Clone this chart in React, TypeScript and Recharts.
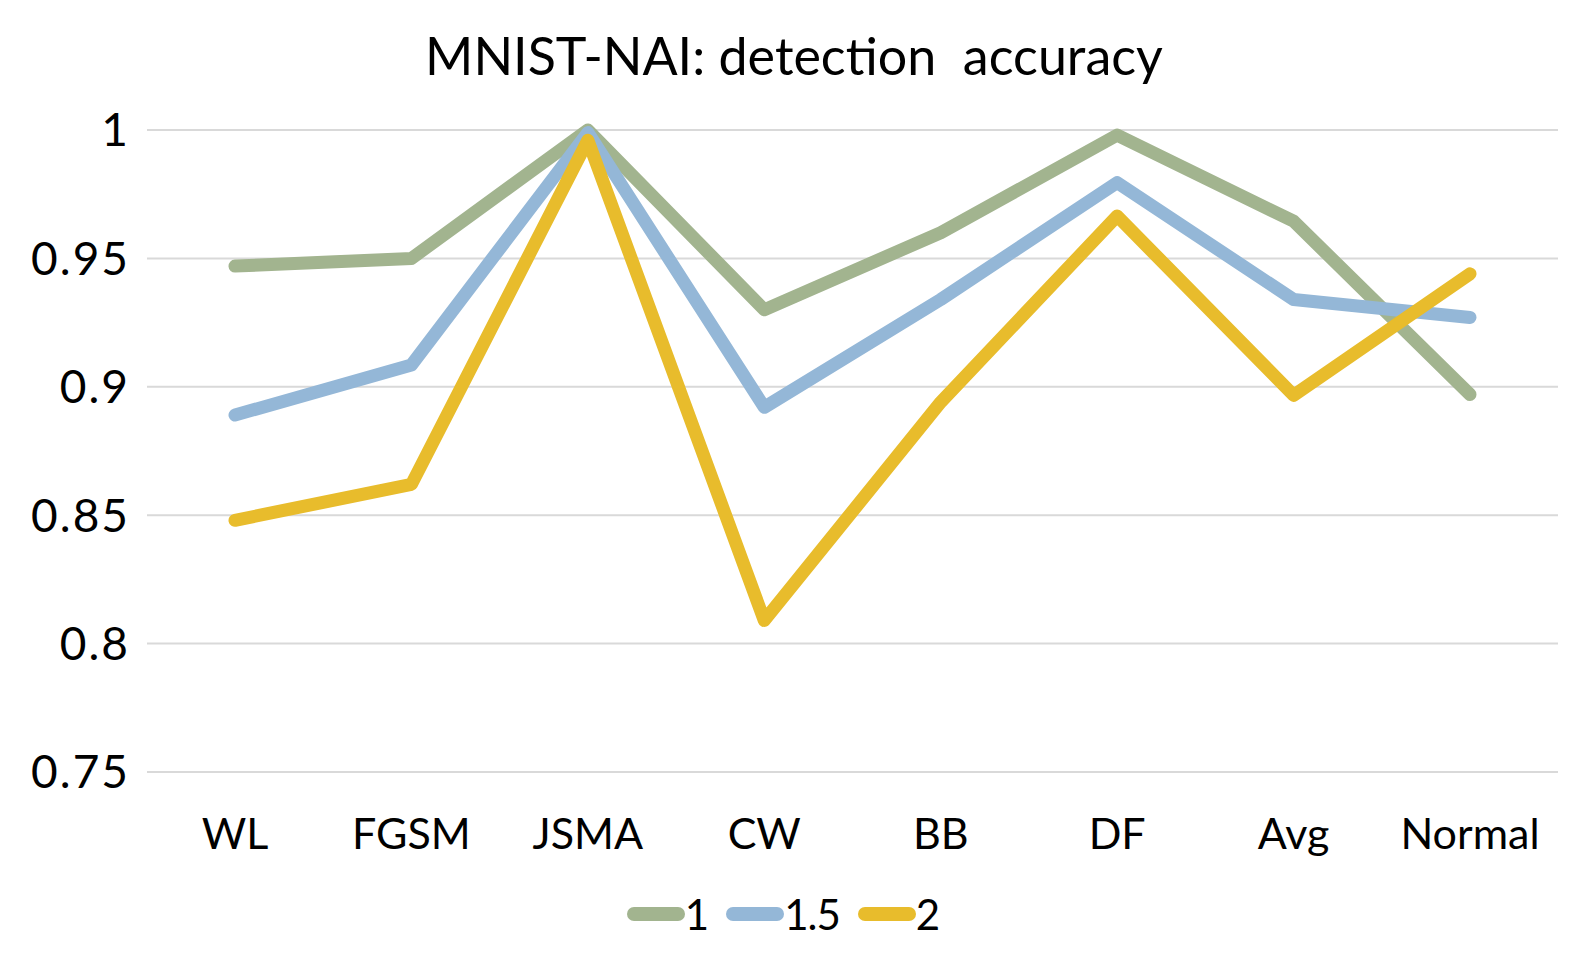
import { LineChart, Line, XAxis, YAxis, CartesianGrid, Legend } from "recharts";

const CATEGORIES = ["WL", "FGSM", "JSMA", "CW", "BB", "DF", "Avg", "Normal"];

// detection accuracy per threshold setting
const SERIES_1 = [0.947, 0.95, 1.0, 0.93, 0.96, 0.998, 0.9645, 0.897];
const SERIES_15 = [0.889, 0.9085, 0.999, 0.892, 0.934, 0.9795, 0.934, 0.927];
const SERIES_2 = [0.848, 0.862, 0.996, 0.809, 0.894, 0.9665, 0.8967, 0.944];

const Y_TICKS = [0.75, 0.8, 0.85, 0.9, 0.95, 1];
const Y_TICK_LABELS: Record<string, string> = {
  "0.75": "0.75",
  "0.8": "0.8",
  "0.85": "0.85",
  "0.9": "0.9",
  "0.95": "0.95",
  "1": "1",
};

const SERIES = [
  { key: "s1", name: "1", color: "#A2B48F" },
  { key: "s15", name: "1.5", color: "#94B7D7" },
  { key: "s2", name: "2", color: "#E8BC2C" },
];

const data = CATEGORIES.map((c, i) => ({
  name: c,
  s1: SERIES_1[i],
  s15: SERIES_15[i],
  s2: SERIES_2[i],
}));

const FONT = "Lato, 'Open Sans', sans-serif";

const LegendContent = () => (
  <div
    style={{
      display: "flex",
      justifyContent: "center",
      alignItems: "center",
      fontFamily: FONT,
      fontSize: 42,
      color: "#000",
      paddingLeft: 8,
    }}
  >
    {SERIES.map((s, i) => (
      <div
        key={s.key}
        style={{ display: "flex", alignItems: "center", marginRight: i < SERIES.length - 1 ? 18 : 0 }}
      >
        <svg width={58} height={20} style={{ marginRight: 0 }}>
          <line x1={7} y1={10} x2={51} y2={10} stroke={s.color} strokeWidth={14} strokeLinecap="round" />
        </svg>
        <span style={{ letterSpacing: -1 }}>{s.name}</span>
      </div>
    ))}
  </div>
);

export default function App() {
  return (
    <div style={{ position: "absolute", left: 0, top: 0, width: 1588, height: 967, background: "#fff" }}>
      <div
        style={{
          position: "absolute",
          left: 0,
          top: 24,
          width: 1588,
          textAlign: "center",
          fontFamily: FONT,
          fontSize: 52,
          color: "#000",
        }}
      >
        MNIST-NAI: detection&nbsp; accuracy
      </div>
      <LineChart
        width={1588}
        height={967}
        data={data}
        margin={{ top: 130, right: 30, left: 0, bottom: 115 }}
      >
        <CartesianGrid stroke="#D9D9D9" strokeWidth={2} vertical={false} />
        <XAxis
          dataKey="name"
          axisLine={false}
          tickLine={false}
          tickSize={0}
          tickMargin={46}
          padding={{ left: 88, right: 88 }}
          tick={{ fontFamily: FONT, fontSize: 43, fill: "#000" }}
          interval={0}
        />
        <YAxis
          domain={[0.75, 1]}
          ticks={Y_TICKS}
          axisLine={false}
          tickLine={false}
          tickSize={0}
          tickMargin={17}
          width={147}
          tick={{ fontFamily: FONT, fontSize: 46, fill: "#000", letterSpacing: 2 }}
          tickFormatter={(v) => Y_TICK_LABELS[String(v)] ?? String(v)}
        />
        <Legend verticalAlign="bottom" content={LegendContent} wrapperStyle={{ bottom: 28 }} />
        {SERIES.map((s) => (
          <Line
            key={s.key}
            dataKey={s.key}
            name={s.name}
            stroke={s.color}
            strokeWidth={13}
            strokeLinecap="round"
            strokeLinejoin="round"
            dot={false}
            activeDot={false}
            isAnimationActive={false}
          />
        ))}
      </LineChart>
    </div>
  );
}
